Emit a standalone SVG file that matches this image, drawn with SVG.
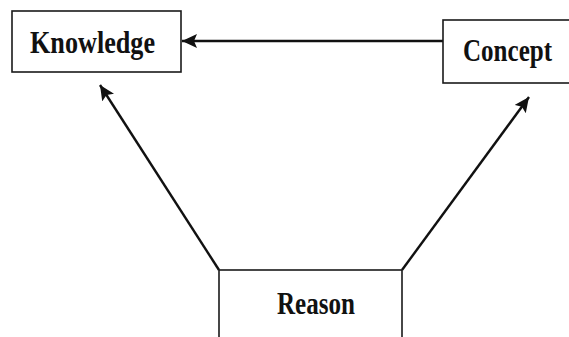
<svg xmlns="http://www.w3.org/2000/svg" width="569" height="337" viewBox="0 0 569 337">
  <style>
    .box { fill: #ffffff; stroke: #1a1a1a; stroke-width: 1.6; }
    .label { font-family: "Liberation Serif", "Times New Roman", serif; font-weight: bold; font-size: 32px; fill: #111111; text-anchor: middle; }
    .edge { stroke: #111111; stroke-width: 2.4; fill: none; marker-end: url(#head); }
  </style>
  <defs>
    <marker id="head" viewBox="0 0 15 14" refX="15" refY="7" markerWidth="15" markerHeight="14" markerUnits="userSpaceOnUse" orient="auto">
      <path d="M0,0 L15,7 L0,14 L3,7 Z" fill="#111111"/>
    </marker>
  </defs>
  <rect width="569" height="337" fill="#ffffff"/>

  <g id="connectors">
    <line class="edge" x1="443" y1="41" x2="182" y2="41"/>
    <line class="edge" x1="219" y1="270" x2="100" y2="85"/>
    <line class="edge" x1="402" y1="270" x2="529" y2="97"/>
  </g>

  <g id="knowledge">
    <rect class="box" x="12" y="11" width="169" height="61"/>
    <text class="label" x="92.5" y="53" textLength="125" lengthAdjust="spacingAndGlyphs">Knowledge</text>
  </g>

  <!-- box runs past the right edge of the canvas -->
  <g id="concept">
    <rect class="box" x="443" y="20" width="135" height="63"/>
    <text class="label" x="507.5" y="61" textLength="89" lengthAdjust="spacingAndGlyphs">Concept</text>
  </g>

  <g id="reason">
    <rect class="box" x="219" y="270" width="183" height="80"/>
    <text class="label" x="316" y="314" textLength="78" lengthAdjust="spacingAndGlyphs">Reason</text>
  </g>
</svg>
